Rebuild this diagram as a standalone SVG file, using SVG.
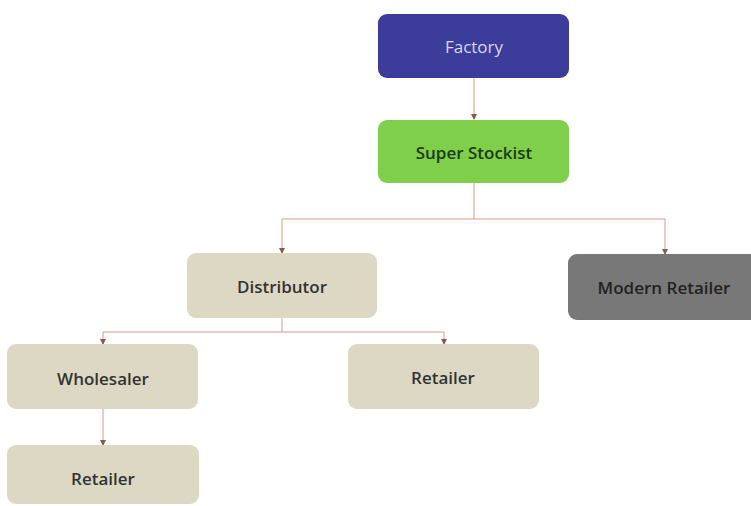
<svg xmlns="http://www.w3.org/2000/svg" width="751" height="506" viewBox="0 0 751 506">
<defs>
<style>
.t{font-family:"Open Sans","Liberation Sans",sans-serif;font-size:17px;font-weight:600;text-anchor:middle;dominant-baseline:central}
.beige{fill:#dcd8c4}
.c{fill:none;stroke:#d99a88;stroke-width:1}
</style>
<marker id="ah" viewBox="0 0 6 6" refX="5" refY="3" markerWidth="6" markerHeight="6" orient="auto" markerUnits="userSpaceOnUse">
<path d="M0,0 L6,3 L0,6 z" fill="#8a5a48"/>
</marker>
</defs>
<rect width="751" height="506" fill="#ffffff"/>
<g id="connectors">
<path class="c" d="M474,78 V119" marker-end="url(#ah)"/>
<path class="c" d="M474,183 V219 M282,219 H665"/>
<path class="c" d="M282,219 V253" marker-end="url(#ah)"/>
<path class="c" d="M665,219 V254" marker-end="url(#ah)"/>
<path class="c" d="M282,318 V332 M103,332 H444"/>
<path class="c" d="M103,332 V344" marker-end="url(#ah)"/>
<path class="c" d="M444,332 V344" marker-end="url(#ah)"/>
<path class="c" d="M103,409 V445" marker-end="url(#ah)"/>
</g>
<g id="factory">
<rect x="378" y="14" width="191" height="64" rx="9" fill="#3c3c9a"/>
<text class="t" x="474" y="46" fill="#d8d8ee" style="font-weight:400">Factory</text>
</g>
<g id="super-stockist">
<rect x="378" y="120" width="191" height="63" rx="9" fill="#7fcf4b"/>
<text class="t" x="474" y="152" fill="#1e3a12">Super Stockist</text>
</g>
<g id="distributor">
<rect class="beige" x="187" y="253" width="190" height="65" rx="9"/>
<text class="t" x="282" y="286" fill="#333333">Distributor</text>
</g>
<g id="modern-retailer">
<rect x="568" y="254" width="192" height="66" rx="9" fill="#787878"/>
<text class="t" x="664" y="287" fill="#222222">Modern Retailer</text>
</g>
<g id="wholesaler">
<rect class="beige" x="7" y="344" width="191" height="65" rx="9"/>
<text class="t" x="103" y="378" fill="#333333">Wholesaler</text>
</g>
<g id="retailer-1">
<rect class="beige" x="348" y="344" width="191" height="65" rx="9"/>
<text class="t" x="443" y="377" fill="#333333">Retailer</text>
</g>
<g id="retailer-2">
<rect class="beige" x="7" y="445" width="192" height="59" rx="9"/>
<text class="t" x="103" y="478" fill="#333333">Retailer</text>
</g>
</svg>
